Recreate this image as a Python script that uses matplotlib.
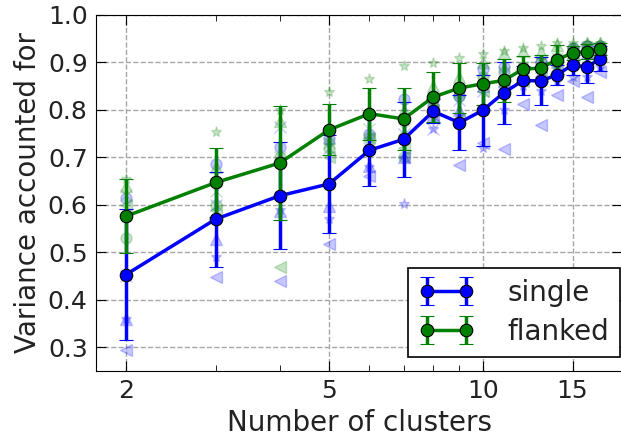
import matplotlib
matplotlib.use("Agg")
import matplotlib.pyplot as plt
import matplotlib.ticker as ticker
import numpy as np

# Numero de clusters testados
k = np.arange(2, 18)

# Media e desvio da variancia explicada
single_mean = [0.453, 0.570, 0.619, 0.644, 0.715, 0.738, 0.797, 0.773,
               0.799, 0.836, 0.862, 0.861, 0.874, 0.895, 0.890, 0.908]
single_err = [0.138, 0.100, 0.113, 0.103, 0.075, 0.079, 0.025, 0.058,
              0.075, 0.065, 0.030, 0.050, 0.021, 0.021, 0.033, 0.027]
flanked_mean = [0.576, 0.647, 0.688, 0.758, 0.792, 0.781, 0.827, 0.846,
                0.855, 0.862, 0.886, 0.888, 0.906, 0.920, 0.923, 0.928]
flanked_err = [0.078, 0.072, 0.121, 0.054, 0.055, 0.065, 0.053, 0.053,
               0.044, 0.046, 0.027, 0.027, 0.030, 0.014, 0.015, 0.012]

# Resultados individuais (um marcador por sujeito)
single_subj = {
    'o': [0.614, 0.686, 0.721, 0.738, 0.750, 0.822, 0.810, 0.830,
          0.886, 0.890, 0.880, 0.900, 0.900, 0.930, 0.935, 0.935],
    '^': [0.360, 0.528, 0.588, 0.598, 0.682, 0.700, 0.790, 0.800,
          0.850, 0.860, 0.870, 0.880, 0.890, 0.910, 0.920, 0.930],
    '<': [0.294, 0.447, 0.440, 0.517, 0.660, 0.700, 0.790, 0.684,
          0.730, 0.717, 0.813, 0.768, 0.832, 0.860, 0.828, 0.880],
    '*': [0.360, 0.490, 0.590, 0.570, 0.680, 0.602, 0.760, 0.790,
          0.720, 0.800, 0.850, 0.840, 0.860, 0.870, 0.870, 0.890],
    'x': [0.450, 0.600, 0.763, 0.720, 0.720, 0.750, 0.759, 0.820,
          0.840, 0.870, 0.880, 0.890, 0.900, 0.920, 0.930, 0.920],
}
flanked_subj = {
    'o': [0.530, 0.600, 0.700, 0.720, 0.740, 0.700, 0.820, 0.830,
          0.870, 0.880, 0.890, 0.900, 0.910, 0.930, 0.935, 0.935],
    '^': [0.640, 0.680, 0.777, 0.740, 0.800, 0.800, 0.850, 0.870,
          0.900, 0.920, 0.925, 0.923, 0.937, 0.935, 0.940, 0.940],
    '<': [0.600, 0.590, 0.470, 0.700, 0.740, 0.720, 0.800, 0.780,
          0.840, 0.850, 0.860, 0.870, 0.890, 0.910, 0.920, 0.920],
    '*': [0.655, 0.753, 0.800, 0.837, 0.865, 0.893, 0.899, 0.909,
          0.918, 0.925, 0.930, 0.935, 0.940, 0.940, 0.940, 0.940],
    'x': [0.620, 0.630, 0.700, 0.730, 0.760, 0.760, 0.820, 0.840,
          0.860, 0.880, 0.890, 0.900, 0.910, 0.920, 0.930, 0.930],
}

fig = plt.figure(figsize=(6.21, 4.4), dpi=100)
ax = fig.add_axes([0.1546, 0.157, 0.847, 0.809])

for m, vals in single_subj.items():
    ax.plot(k, vals, linestyle='none', marker=m, color='b', alpha=0.22,
            markersize=8, markeredgewidth=1)
for m, vals in flanked_subj.items():
    ax.plot(k, vals, linestyle='none', marker=m, color='g', alpha=0.22,
            markersize=8, markeredgewidth=1)

ax.errorbar(k, single_mean, yerr=single_err, color='b', marker='o',
            markersize=9, markeredgecolor='k', markeredgewidth=0.8,
            linewidth=2.5, elinewidth=2.5, capsize=5, capthick=1.5,
            label='single')
ax.errorbar(k, flanked_mean, yerr=flanked_err, color='g', marker='o',
            markersize=9, markeredgecolor='k', markeredgewidth=0.8,
            linewidth=2.5, elinewidth=2.5, capsize=5, capthick=1.5,
            label='flanked')

ax.set_xscale('log')
ax.set_xlim(1.747, 18.75)
ax.set_ylim(0.25, 1.0)
ax.set_xticks([2, 5, 10, 15])
ax.xaxis.set_major_formatter(ticker.FormatStrFormatter('%d'))
ax.xaxis.set_minor_locator(ticker.FixedLocator([3, 4, 6, 7, 8, 9]))
ax.xaxis.set_minor_formatter(ticker.NullFormatter())
ax.set_yticks([0.3, 0.4, 0.5, 0.6, 0.7, 0.8, 0.9, 1.0])
ax.tick_params(which='both', direction='in', top=True, right=True,
               labelsize=18, colors='k', labelcolor='#222222')
ax.tick_params(which='major', length=7, pad=6)
ax.tick_params(which='minor', length=4)
ax.grid(True, which='major', linestyle='--', color='0.65', linewidth=1)

ax.set_xlabel('Number of clusters', fontsize=20, color='#222222')
ax.set_ylabel('Variance accounted for', fontsize=20, color='#222222')

leg = ax.legend(loc='lower right', bbox_to_anchor=(0.999, 0.189),
                bbox_transform=fig.transFigure, numpoints=2, fontsize=20,
                fancybox=False, framealpha=1, edgecolor='k',
                handlelength=2.0, borderpad=0.4, labelspacing=0.4,
                handletextpad=1.2, borderaxespad=0)
leg.get_frame().set_linewidth(1.2)
for t in leg.get_texts():
    t.set_color('#222222')

fig.savefig('out.png', dpi=100)
